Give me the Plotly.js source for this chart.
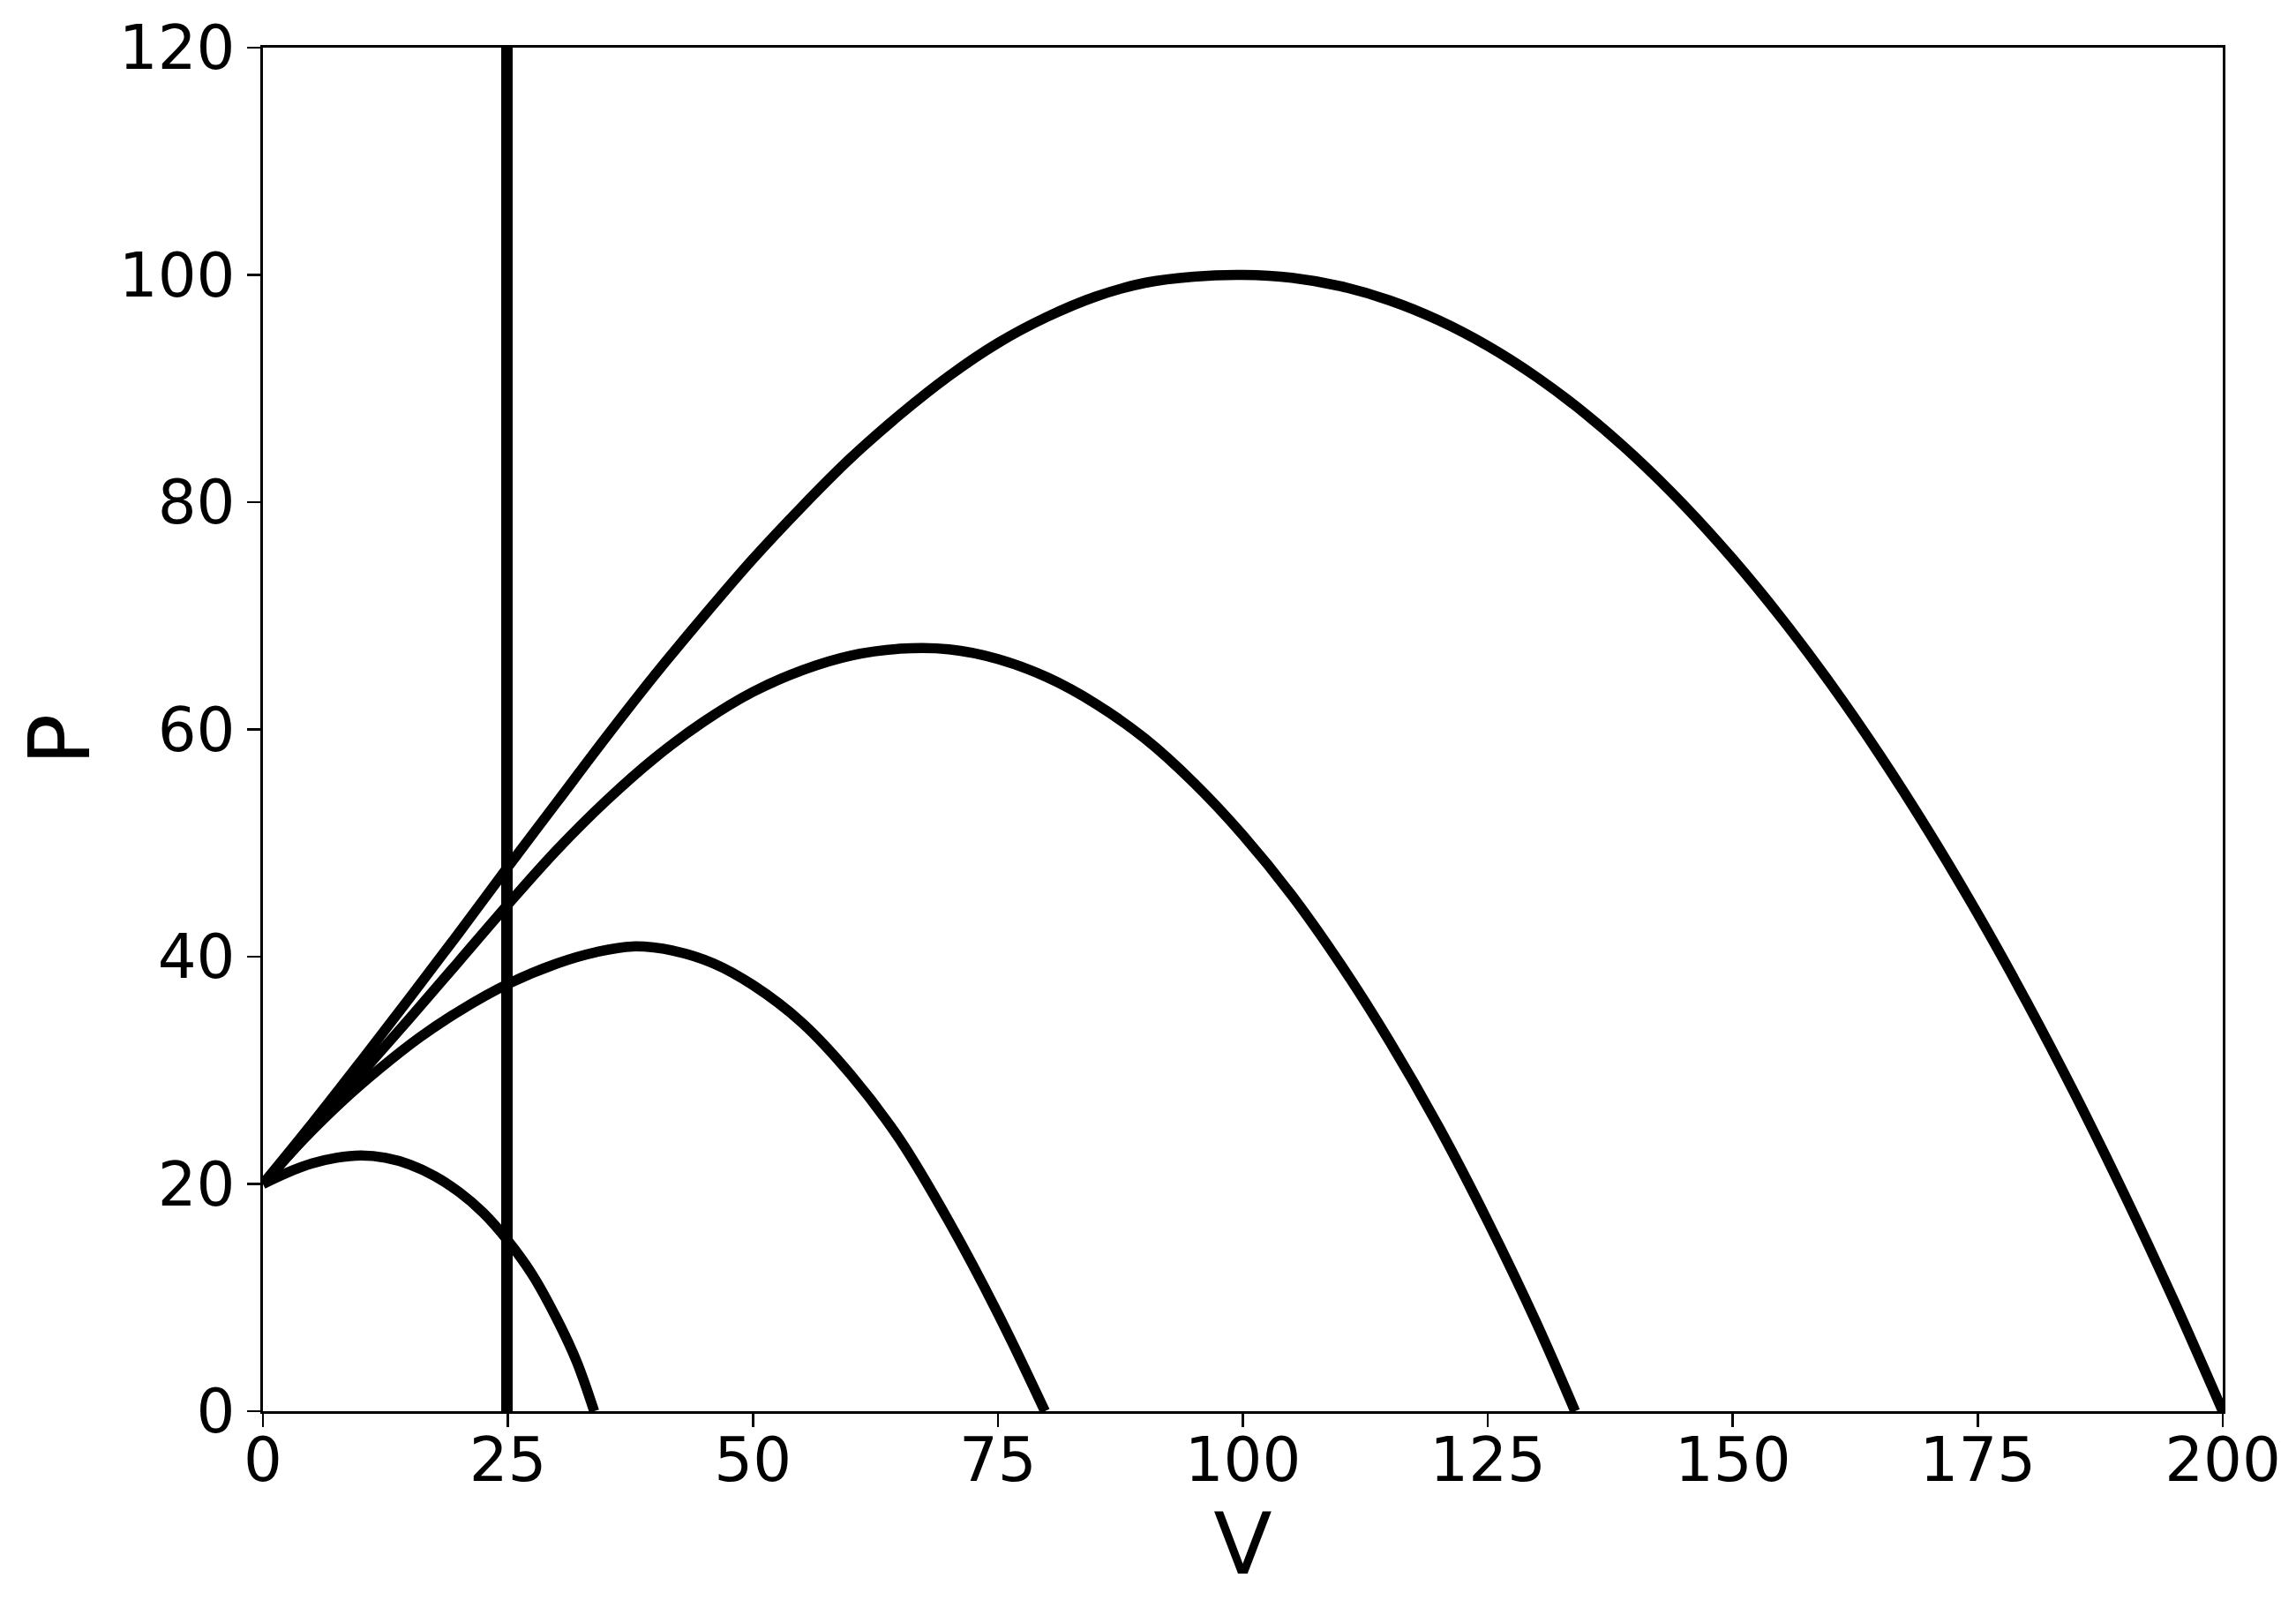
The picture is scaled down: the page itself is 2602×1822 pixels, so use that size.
<!DOCTYPE html>
<html>
<head>
<meta charset="utf-8">
<script src="https://cdn.plot.ly/plotly-3.0.1.min.js"></script>
<style>
html, body { margin: 0; padding: 0; background: #ffffff; }
#chart { width: 2602px; height: 1822px; }
</style>
</head>
<body>
<div id="chart"></div>
<script>
// Curve 1 (smallest)
const c1V = [0, 2.5, 5, 7.5, 10, 12.5, 15, 17.5, 20, 22.5, 25, 27.5, 30, 32, 33.8];
const c1P = [20, 21.0, 21.8, 22.3, 22.5, 22.3, 21.7, 20.7, 19.3, 17.45, 15.0, 12.0, 8.1, 4.4, 0];

// Curve 2
const c2V = [0, 4, 8, 12, 16, 20, 25, 30, 34, 37.7, 42, 46, 50, 55, 60, 65, 70, 75, 79.8];
const c2P = [20, 23.8, 27.2, 30.2, 32.9, 35.2, 37.6, 39.4, 40.4, 40.9, 40.5, 39.4, 37.5, 34.2, 29.6, 23.9, 16.7, 8.6, 0];

// Curve 3
const c3V = [0, 5, 10, 15, 20, 25, 30, 35, 40, 45, 50, 55, 60, 65, 70, 75, 80, 85, 90, 95, 100, 105, 110, 115, 120, 125, 130, 133.9];
const c3P = [20, 24.8, 29.7, 34.6, 39.6, 44.6, 49.4, 53.7, 57.5, 60.7, 63.3, 65.2, 66.5, 67.1, 67.05, 66.2, 64.6, 62.25, 59.2, 55.3, 50.7, 45.4, 39.3, 32.5, 25.0, 16.7, 7.7, 0];

// Curve 4 (largest)
const c4V = [0, 5, 10, 15, 20, 25, 30, 35, 40, 45, 50, 55, 60, 65, 70, 75, 80, 85, 90, 95, 100,
             105, 110, 115, 120, 125, 130, 135, 140, 145, 150, 155, 160, 165, 170, 175, 180, 185, 190, 195, 200];
const c4P = [20, 25.3, 30.8, 36.4, 42.1, 47.9, 53.6, 59.3, 64.8, 70.0, 75.0, 79.6, 83.9, 87.7, 91.1, 94.0, 96.3, 98.1, 99.3, 99.85, 100,
             99.75, 99.0, 97.75, 96.0, 93.75, 91.0, 87.75, 84.0, 79.75, 75.0, 69.75, 64.0, 57.75, 51.0, 43.75, 36.0, 27.75, 19.0, 9.75, 0];

// Vertical line
const vlineV = [24.9, 24.9];
const vlineP = [0, 120];

// Axis ticks and labels
const xTicks = [0, 25, 50, 75, 100, 125, 150, 175, 200];
const yTicks = [0, 20, 40, 60, 80, 100, 120];
const xLabel = 'V';
const yLabel = 'P';

const curveLine = { color: '#000000', width: 11.5, shape: 'spline', smoothing: 1 };

const traces = [
  { x: c1V, y: c1P, mode: 'lines', line: curveLine, hoverinfo: 'skip' },
  { x: c2V, y: c2P, mode: 'lines', line: curveLine, hoverinfo: 'skip' },
  { x: c3V, y: c3P, mode: 'lines', line: curveLine, hoverinfo: 'skip' },
  { x: c4V, y: c4P, mode: 'lines', line: curveLine, hoverinfo: 'skip' },
  { x: vlineV, y: vlineP, mode: 'lines', line: { color: '#000000', width: 13 }, hoverinfo: 'skip' }
];

const font = 'DejaVu Sans, sans-serif';

const layout = {
  width: 2602,
  height: 1822,
  paper_bgcolor: '#ffffff',
  plot_bgcolor: '#ffffff',
  showlegend: false,
  margin: { l: 298, r: 83, t: 54, b: 223, pad: 0 },
  font: { family: font, color: '#000000', size: 69 },
  xaxis: {
    range: [0, 200],
    tickvals: xTicks,
    ticktext: xTicks.map(String),
    ticks: 'outside',
    ticklen: 15,
    tickwidth: 2.7,
    tickcolor: '#000000',
    ticklabelstandoff: -22,
    showline: true,
    linecolor: '#000000',
    linewidth: 2.7,
    mirror: true,
    showgrid: false,
    zeroline: false,
    tickfont: { family: font, size: 69, color: '#000000' },
    title: { text: xLabel, font: { family: font, size: 97, color: '#000000' }, standoff: 9 },
    automargin: false
  },
  yaxis: {
    range: [0, 120],
    tickvals: yTicks,
    ticktext: yTicks.map(String),
    ticks: 'outside',
    ticklen: 15,
    tickwidth: 2.7,
    tickcolor: '#000000',
    showline: true,
    linecolor: '#000000',
    linewidth: 2.7,
    mirror: true,
    showgrid: false,
    zeroline: false,
    tickfont: { family: font, size: 69, color: '#000000' },
    title: { text: '' },
    automargin: false
  },
  annotations: [
    {
      text: yLabel,
      xref: 'paper', yref: 'paper',
      x: -0.1036, y: 0.4929,
      xanchor: 'center', yanchor: 'middle',
      textangle: -90,
      showarrow: false,
      font: { family: font, size: 97, color: '#000000' }
    }
  ]
};

Plotly.newPlot('chart', traces, layout, { staticPlot: true, displayModeBar: false });
</script>
</body>
</html>
